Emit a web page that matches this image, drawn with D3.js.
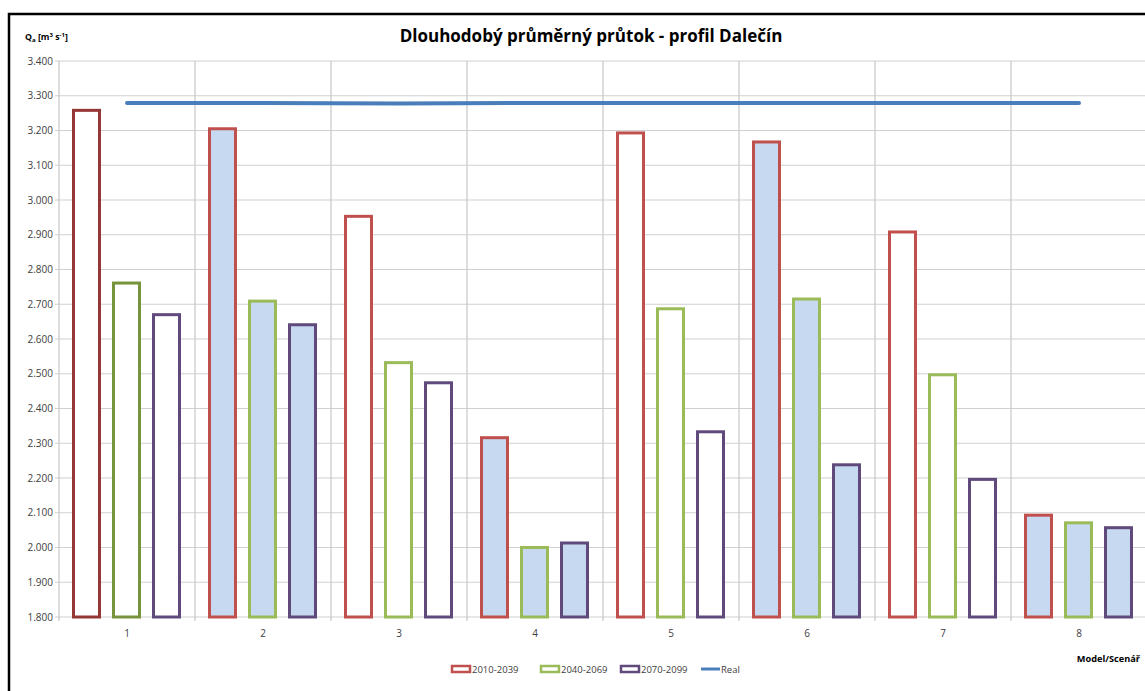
<!DOCTYPE html>
<html>
<head>
<meta charset="utf-8">
<script src="https://cdn.jsdelivr.net/npm/d3@7"></script>
<style>
  body { margin: 0; background: #fff; }
  svg { display: block; font-family: "Open Sans", "Noto Sans", sans-serif; }
</style>
</head>
<body>
<svg width="1145" height="691"></svg>
<script>
const categories = ["1", "2", "3", "4", "5", "6", "7", "8"];
const seriesNames = ["2010-2039", "2040-2069", "2070-2099"];
const s2010 = [3.258, 3.205, 2.953, 2.316, 3.193, 3.167, 2.908, 2.093];
const s2040 = [2.761, 2.709, 2.532, 2.000, 2.687, 2.715, 2.497, 2.071];
const s2070 = [2.670, 2.641, 2.474, 2.013, 2.333, 2.238, 2.196, 2.057];
const real = [3.279, 3.279, 3.278, 3.279, 3.279, 3.279, 3.279, 3.279];
const yTicks = [1.8, 1.9, 2.0, 2.1, 2.2, 2.3, 2.4, 2.5, 2.6, 2.7, 2.8, 2.9, 3.0, 3.1, 3.2, 3.3, 3.4];

const strokeNormal = ["#c0504d", "#9bbb59", "#604a7b"];
const strokeFirst = ["#953735", "#77933c", "#604a7b"];

const svg = d3.select("svg");

// chart frame (only left and top edges fall inside the picture)
svg.append("rect")
   .attr("x", 9).attr("y", 14)
   .attr("width", 1200).attr("height", 700)
   .attr("fill", "none")
   .attr("stroke", "#000")
   .attr("stroke-width", 2.5);

const plot = { left: 59, right: 1147, top: 61, bottom: 617 };

const x = d3.scaleBand()
            .domain(categories)
            .range([plot.left, plot.right]);

const xInner = d3.scaleBand()
                 .domain(seriesNames)
                 .range([13, x.bandwidth() - 14])
                 .paddingInner(0.275);

const y = d3.scaleLinear()
            .domain([1.8, 3.4])
            .range([plot.bottom, plot.top]);

// horizontal grid
svg.append("g")
   .selectAll("line")
   .data(yTicks)
   .enter()
   .append("line")
   .attr("x1", plot.left - 4)
   .attr("x2", plot.right)
   .attr("y1", d => y(d))
   .attr("y2", d => y(d))
   .attr("stroke", "#d0d0d0")
   .attr("stroke-width", 1.2);

// vertical grid at category boundaries
svg.append("g")
   .selectAll("line")
   .data(categories.concat(["end"]))
   .enter()
   .append("line")
   .attr("x1", (d, i) => plot.left + i * x.step())
   .attr("x2", (d, i) => plot.left + i * x.step())
   .attr("y1", plot.top)
   .attr("y2", plot.bottom + 4)
   .attr("stroke", "#c6c6c6")
   .attr("stroke-width", 1.2);

// y axis labels
const yAxis = d3.axisLeft(y)
                .tickValues(yTicks)
                .tickSize(0)
                .tickPadding(6)
                .tickFormat(d3.format(".3f"));

svg.append("g")
   .attr("transform", `translate(${plot.left}, 0)`)
   .call(yAxis)
   .call(g => g.select(".domain").remove())
   .call(g => g.selectAll("text")
               .attr("font-family", "'Open Sans', sans-serif")
               .attr("font-size", 10)
               .attr("fill", "#404040"));

// x axis labels
const xAxis = d3.axisBottom(x).tickSize(0).tickPadding(13);
svg.append("g")
   .attr("transform", `translate(0, ${plot.bottom})`)
   .call(xAxis)
   .call(g => g.select(".domain").remove())
   .call(g => g.selectAll("text")
               .attr("font-family", "'Open Sans', sans-serif")
               .attr("font-size", 10)
               .attr("fill", "#404040"));

// bars
const allSeries = [s2010, s2040, s2070];
const barData = [];
categories.forEach((c, ci) => {
  allSeries.forEach((s, si) => {
    barData.push({ cat: c, ci: ci, series: seriesNames[si], si: si, value: s[ci] });
  });
});

const sw = 3;
svg.append("g")
   .selectAll("rect")
   .data(barData)
   .enter()
   .append("rect")
   .attr("x", d => x(d.cat) + xInner(d.series) + sw / 2)
   .attr("y", d => y(d.value))
   .attr("width", xInner.bandwidth() - sw)
   .attr("height", d => y(1.8) - y(d.value))
   .attr("fill", d => (d.ci % 2 === 1 ? "#c6d9f1" : "#ffffff"))
   .attr("stroke", d => (d.ci === 0 ? strokeFirst[d.si] : strokeNormal[d.si]))
   .attr("stroke-width", sw);

// Real line
const line = d3.line()
               .x((d, i) => x(categories[i]) + x.bandwidth() / 2)
               .y(d => y(d));

svg.append("path")
   .datum(real)
   .attr("d", line)
   .attr("fill", "none")
   .attr("stroke", "#4a7ebb")
   .attr("stroke-width", 4)
   .attr("stroke-linecap", "round");

// title
svg.append("text")
   .attr("x", 591)
   .attr("y", 42)
   .attr("text-anchor", "middle")
   .attr("font-family", "'Open Sans', sans-serif")
   .attr("font-weight", "bold")
   .attr("font-size", 17)
   .attr("fill", "#000")
   .text("Dlouhodobý průměrný průtok - profil Dalečín");

// y axis title
const yt = svg.append("text")
              .attr("x", 25)
              .attr("y", 40)
              .attr("font-family", "'Open Sans', sans-serif")
              .attr("font-weight", "bold")
              .attr("font-size", 8.8)
              .attr("fill", "#000");
yt.append("tspan").text("Q");
yt.append("tspan").attr("font-size", 6).attr("dy", 2).text("a");
yt.append("tspan").attr("dy", -2).text(" [m");
yt.append("tspan").attr("font-size", 6).attr("dy", -3).text("3");
yt.append("tspan").attr("dy", 3).text(" s");
yt.append("tspan").attr("font-size", 6).attr("dy", -3).text("-1");
yt.append("tspan").attr("dy", 3).text("]");

// x axis title
svg.append("text")
   .attr("x", 1140)
   .attr("y", 662)
   .attr("text-anchor", "end")
   .attr("font-family", "'Open Sans', sans-serif")
   .attr("font-weight", "bold")
   .attr("font-size", 9.2)
   .attr("fill", "#000")
   .text("Model/Scenář");

// legend
const legendItems = [
  { name: "2010-2039", color: strokeNormal[0], x: 452, type: "bar" },
  { name: "2040-2069", color: strokeNormal[1], x: 541, type: "bar" },
  { name: "2070-2099", color: strokeNormal[2], x: 621, type: "bar" },
  { name: "Real", color: "#4a7ebb", x: 701, type: "line" }
];

const legend = svg.append("g").attr("transform", "translate(0, 669)");
const li = legend.selectAll("g")
                 .data(legendItems)
                 .enter()
                 .append("g")
                 .attr("transform", d => `translate(${d.x}, 0)`);

li.filter(d => d.type === "bar")
  .append("rect")
  .attr("x", 0).attr("y", -3)
  .attr("width", 18).attr("height", 6)
  .attr("fill", "#fff")
  .attr("stroke", d => d.color)
  .attr("stroke-width", 2.5);

li.filter(d => d.type === "line")
  .append("line")
  .attr("x1", 0).attr("x2", 19)
  .attr("y1", 0).attr("y2", 0)
  .attr("stroke", d => d.color)
  .attr("stroke-width", 3);

li.append("text")
  .attr("x", 20)
  .attr("y", 3.5)
  .attr("font-family", "'Open Sans', sans-serif")
  .attr("font-size", 9.5)
  .attr("fill", "#404040")
  .text(d => d.name);
</script>
</body>
</html>
